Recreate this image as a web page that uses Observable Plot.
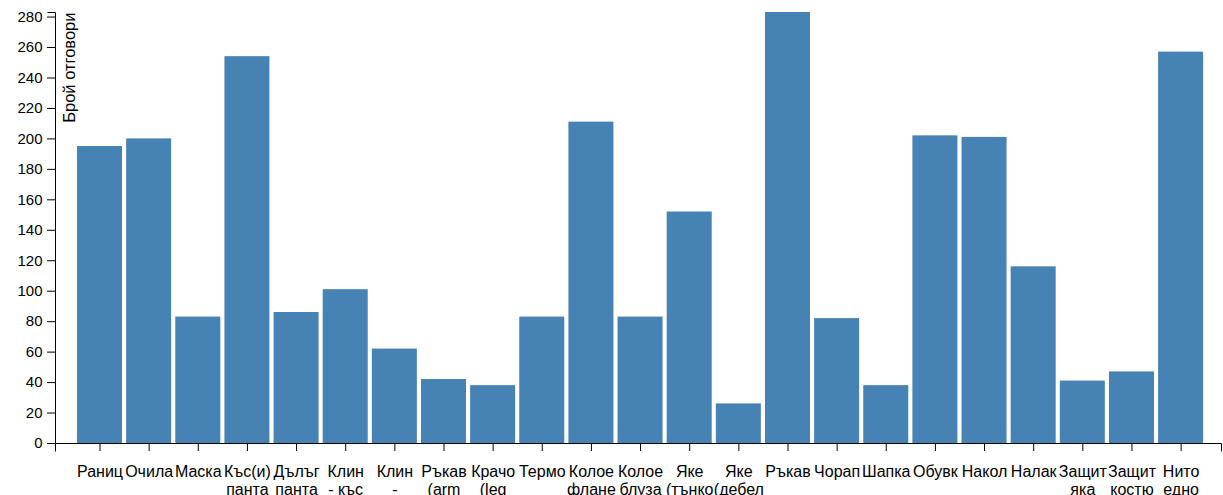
<!DOCTYPE html>
<html>
<head>
<meta charset="utf-8">
<script src="https://cdn.jsdelivr.net/npm/d3@7"></script>
<script src="https://cdn.jsdelivr.net/npm/@observablehq/plot@0.6"></script>
<style>
  html, body { margin: 0; padding: 0; background: white; overflow: hidden; }
  #chart svg { display: block; }
</style>
</head>
<body>
<div id="chart"></div>
<script>
// Categories (full names, used as keys)
const categories = [
  "Раници", "Очила", "Маска", "Къс(и) панталон(и)", "Дълъг панталон",
  "Клин - къс", "Клин - дълъг", "Ръкав (arm warmers)", "Крачол (leg warmers)", "Термо",
  "Колоездачна фланелка", "Колоездачна блуза", "Яке (тънко)", "Яке (дебело)", "Ръкавици",
  "Чорапи", "Шапка", "Обувки", "Наколенки", "Налакътници",
  "Защитна яка", "Защитен костюм", "Нито едно"
];
// Tick labels as they appear (wrapped and truncated)
const tickLabels = [
  "Раниц", "Очила", "Маска", "Къс(и)\nпанта", "Дълъг\nпанта",
  "Клин\n- къс", "Клин\n-", "Ръкав\n(arm", "Крачо\n(leg", "Термо",
  "Колое\nфлане", "Колое\nблуза", "Яке\n(тънко", "Яке\n(дебел", "Ръкав",
  "Чорап", "Шапка", "Обувк", "Накол", "Налак",
  "Защит\nяка", "Защит\nкостю", "Нито\nедно"
];
// Number of answers
const counts = [195, 200, 83, 254, 86, 101, 62, 42, 38, 83, 211, 83, 152, 26, 283, 82, 38, 202, 201, 116, 41, 47, 257];
const yTicks = [0, 20, 40, 60, 80, 100, 120, 140, 160, 180, 200, 220, 240, 260, 280];
const yLabel = "Брой отговори";

const data = categories.map((c, i) => ({category: c, count: counts[i]}));
const labelOf = new Map(categories.map((c, i) => [c, tickLabels[i]]));

const TICK = 8;

// D3-style domain lines with outer ticks, drawn from the plot dimensions
function domainLines(index, scales, values, dimensions) {
  const {width, height, marginLeft, marginRight, marginTop, marginBottom} = dimensions;
  const x0 = marginLeft + 0.5, x1 = width - marginRight - 0.5;
  const yb = height - marginBottom + 0.5, yt = scales.y(d3.max(counts)) + 0.5;
  const ns = "http://www.w3.org/2000/svg";
  const g = document.createElementNS(ns, "g");
  const p1 = document.createElementNS(ns, "path");
  p1.setAttribute("d", `M${x0},${yb + TICK}V${yb}H${x1}V${yb + TICK}`);
  const p2 = document.createElementNS(ns, "path");
  p2.setAttribute("d", `M${x0 - TICK},${yb}H${x0}V${yt}H${x0 - TICK}`);
  for (const p of [p1, p2]) {
    p.setAttribute("fill", "none");
    p.setAttribute("stroke", "black");
    g.appendChild(p);
  }
  return g;
}

const chart = Plot.plot({
  width: 1223,
  height: 495,
  marginLeft: 55,
  marginRight: 1,
  marginTop: 12,
  marginBottom: 52,
  style: {fontFamily: "'Liberation Sans', Arial, sans-serif", fontSize: "16px", background: "white", color: "black", overflow: "visible"},
  x: {domain: categories, paddingInner: 0.084, paddingOuter: 0.416, align: 0.538, round: false, label: null},
  y: {domain: [0, d3.max(counts)], label: null},
  marks: [
    Plot.barY(data, {x: "category", y: "count", fill: "steelblue"}),
    Plot.axisY({ticks: yTicks, tickSize: TICK, tickPadding: 5, fontSize: 15, label: null, stroke: "black"}),
    Plot.axisX({tickSize: TICK, tickPadding: 13, fontSize: 16, lineHeight: 1.1, tickFormat: d => labelOf.get(d), label: null, stroke: "black"}),
    domainLines,
    Plot.text([yLabel], {frameAnchor: "top-left", rotate: -90, textAnchor: "end", dx: 8, fontSize: 16.5, fill: "black"})
  ]
});
document.getElementById("chart").appendChild(chart);
</script>
</body>
</html>
